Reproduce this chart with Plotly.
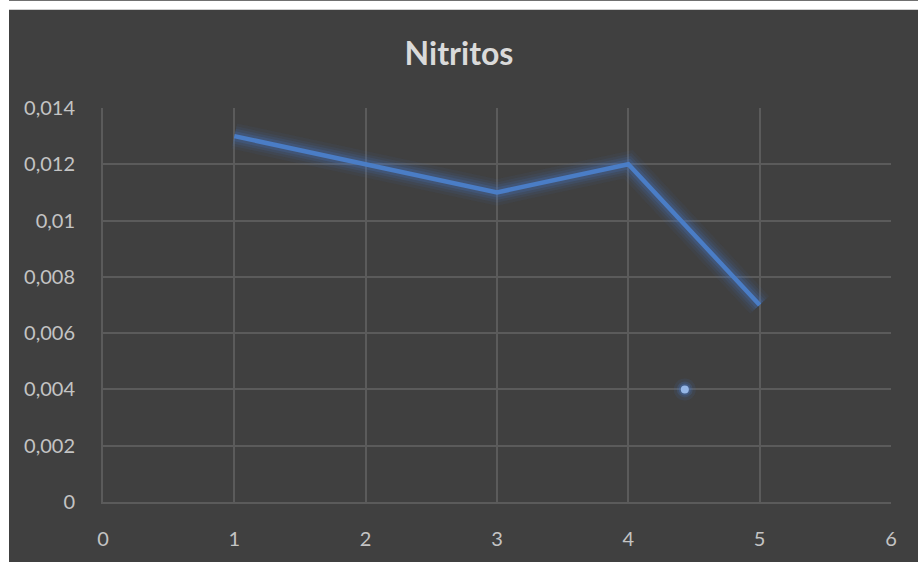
import plotly.graph_objects as go

# Nitrite readings per sample
muestras = [1, 2, 3, 4, 5]
nitritos = [0.013, 0.012, 0.011, 0.012, 0.007]

# Isolated reading plotted on its own
punto_x = [4.43]
punto_y = [0.004]

x_ticks = [0, 1, 2, 3, 4, 5, 6]
y_ticks = [0, 0.002, 0.004, 0.006, 0.008, 0.010, 0.012, 0.014]
y_labels = ["0", "0,002", "0,004", "0,006", "0,008", "0,01", "0,012", "0,014"]

BG = "#404040"
GRID = "#5b5b5b"
TXT = "#c4c4c4"
BLUE = "#4a7dc6"
FONT = "Lato"

fig = go.Figure()

# soft glow under the main line
for w, a in [(26, 0.06), (20, 0.09), (15, 0.13), (10, 0.2)]:
    fig.add_trace(go.Scatter(
        x=muestras, y=nitritos, mode="lines",
        line=dict(color=f"rgba(70,120,200,{a})", width=w),
        hoverinfo="skip", showlegend=False))

fig.add_trace(go.Scatter(
    x=muestras, y=nitritos, mode="lines",
    line=dict(color=BLUE, width=4.5), name="Nitritos", showlegend=False))

# glow around the single point
for s, a in [(22, 0.10), (16, 0.18), (12, 0.3)]:
    fig.add_trace(go.Scatter(
        x=punto_x, y=punto_y, mode="markers",
        marker=dict(size=s, color=f"rgba(70,120,200,{a})", line=dict(width=0)),
        hoverinfo="skip", showlegend=False))
fig.add_trace(go.Scatter(
    x=punto_x, y=punto_y, mode="markers",
    marker=dict(size=8, color="#95b6e6", line=dict(width=0)),
    showlegend=False))

# white border strips on the top and left edges of the page
L, T, PW, PH = 103, 108, 788, 397
fig.add_shape(type="rect", xref="paper", yref="paper",
              x0=(0 - L) / PW, x1=(9 - L) / PW, y0=-1, y1=2,
              fillcolor="white", line=dict(width=0), layer="above")
fig.add_shape(type="rect", xref="paper", yref="paper",
              x0=-1, x1=2, y0=(T + PH - 9) / PH, y1=(T + PH) / PH,
              fillcolor="white", line=dict(width=0), layer="above")

fig.update_layout(
    width=918, height=562,
    margin=dict(l=L, r=918 - L - PW, t=T, b=562 - T - PH),
    paper_bgcolor=BG, plot_bgcolor=BG,
    title=dict(text="<b>Nitritos</b>", x=0.5, xanchor="center",
               y=1 - 54 / 562, yanchor="middle",
               font=dict(family=FONT, size=32, color="#dadada")),
    font=dict(family=FONT, color=TXT, size=20),
    xaxis=dict(range=[0, 6], tickvals=x_ticks, showgrid=True, gridcolor=GRID,
               gridwidth=1.5, zeroline=False, showline=True, linecolor=GRID,
               linewidth=2, ticks="", ticklabelstandoff=18,
               tickfont=dict(family=FONT, size=20, color=TXT)),
    yaxis=dict(range=[0, 0.014], tickvals=y_ticks, ticktext=y_labels,
               showgrid=True, gridcolor=GRID, gridwidth=1.5, zeroline=False,
               showline=True, linecolor=GRID, linewidth=2, ticks="",
               ticklabelstandoff=22,
               tickfont=dict(family=FONT, size=20, color=TXT)),
)

fig.write_html("out.html")
